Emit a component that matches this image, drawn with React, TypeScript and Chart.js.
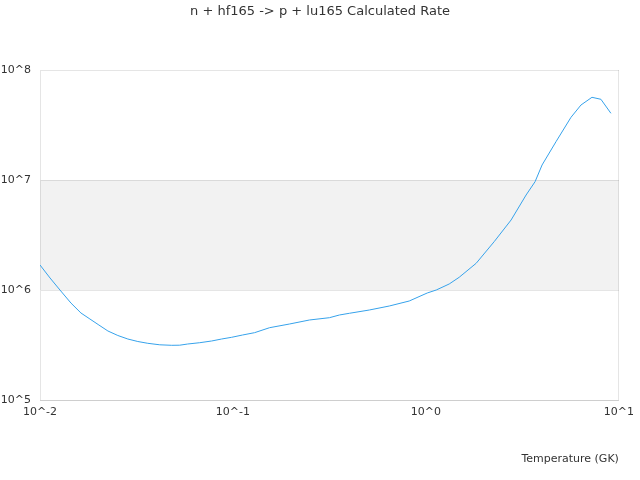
import React, { useEffect, useRef } from "react";
import { Chart, registerables } from "chart.js";

Chart.register(...registerables);

const chartTitle = "n + hf165 -> p + lu165 Calculated Rate";
const xAxisTitle = "Temperature (GK)";

// Temperature (GK)
const temperatures = [
  0.01, 0.01127, 0.01269, 0.01446, 0.0163, 0.01814, 0.02019, 0.02248, 0.02531,
  0.02852, 0.03213, 0.0362, 0.04175, 0.04816, 0.05297, 0.05827, 0.06723,
  0.07755, 0.08737, 0.09843, 0.1122, 0.1294, 0.1548, 0.1964, 0.2492, 0.3162,
  0.3562, 0.4012, 0.509, 0.6458, 0.8193, 1.016, 1.131, 1.32, 1.487, 1.821,
  2.257, 2.763, 3.304, 3.678, 3.998, 4.722, 5.646, 6.361, 7.251, 8.069, 9.091,
];

// Calculated rate
const rates = [
  1.688e6, 1.286e6, 1.0e6, 7.617e5, 6.18e5, 5.448e5, 4.806e5, 4.241e5, 3.859e5,
  3.585e5, 3.402e5, 3.277e5, 3.175e5, 3.142e5, 3.149e5, 3.229e5, 3.318e5,
  3.439e5, 3.585e5, 3.715e5, 3.899e5, 4.092e5, 4.543e5, 4.908e5, 5.337e5,
  5.601e5, 5.926e5, 6.141e5, 6.579e5, 7.153e5, 7.943e5, 9.392e5, 1.0e6,
  1.134e6, 1.305e6, 1.749e6, 2.749e6, 4.329e6, 7.305e6, 9.65e6, 1.369e7,
  2.23e7, 3.715e7, 4.806e7, 5.647e7, 5.416e7, 4.04e7,
];

const xTicks = [0.01, 0.1, 1, 10];
const yTicks = [1e5, 1e6, 1e7, 1e8];
const bandRange = [1e6, 1e7];

const FONT = "'DejaVu Sans', sans-serif";
const GRID = "rgba(0,0,0,0.1)";
const TEXT = "#333";

const bandPlugin = {
  id: "band",
  beforeDraw(chart: any) {
    const { ctx, chartArea, scales } = chart;
    const y = scales.y;
    const top = y.getPixelForValue(bandRange[1]);
    const bottom = y.getPixelForValue(bandRange[0]);
    ctx.save();
    ctx.fillStyle = "rgba(0,0,0,0.05)";
    ctx.fillRect(chartArea.left, top, chartArea.right - chartArea.left, bottom - top);
    ctx.restore();
  },
};

const titlePlugin = {
  id: "centeredTitle",
  afterDraw(chart: any) {
    const { ctx, width } = chart;
    ctx.save();
    ctx.fillStyle = TEXT;
    ctx.font = "13px " + FONT;
    ctx.textAlign = "center";
    ctx.textBaseline = "middle";
    ctx.fillText(chartTitle, width / 2, 12);
    ctx.restore();
  },
};

export default function App() {
  const canvasRef = useRef<HTMLCanvasElement | null>(null);

  useEffect(() => {
    document.body.style.margin = "0";
    const canvas = canvasRef.current;
    if (!canvas) return;
    const label = (v: number) => "10^" + Math.round(Math.log10(v));
    const chart = new Chart(canvas, {
      type: "line",
      data: {
        datasets: [
          {
            data: temperatures.map((t, i) => ({ x: t, y: rates[i] })),
            borderColor: "#36a2eb",
            backgroundColor: "#36a2eb",
            borderWidth: 1,
            pointRadius: 0,
            tension: 0,
            fill: false,
          },
        ],
      },
      options: {
        animation: false,
        responsive: false,
        devicePixelRatio: 1,
        layout: { padding: { top: 70, right: 20, bottom: 10, left: 0 } },
        plugins: {
          legend: { display: false },
          tooltip: { enabled: false },
          title: { display: false },
        },
        scales: {
          x: {
            type: "logarithmic",
            min: 0.01,
            max: 10,
            afterBuildTicks: (scale: any) => {
              scale.ticks = xTicks.map((v) => ({ value: v }));
            },
            afterFit: (scale: any) => {
              scale.height = 70;
            },
            ticks: {
              color: TEXT,
              font: { family: FONT, size: 11 },
              padding: 6,
              maxRotation: 0,
              autoSkip: false,
              callback: (v: any) => label(Number(v)),
            },
            grid: {
              drawTicks: false,
              color: (c: any) => (c.tick && c.tick.value === 10 ? GRID : "rgba(0,0,0,0)"),
            },
            border: { display: true, color: GRID },
            title: {
              display: true,
              text: xAxisTitle,
              align: "end",
              color: TEXT,
              font: { family: FONT, size: 11 },
              padding: { top: 4, bottom: 4 },
            },
          },
          y: {
            type: "logarithmic",
            min: 1e5,
            max: 1e8,
            afterBuildTicks: (scale: any) => {
              scale.ticks = yTicks.map((v) => ({ value: v }));
            },
            afterFit: (scale: any) => {
              scale.width = 40;
            },
            ticks: {
              color: TEXT,
              font: { family: FONT, size: 11 },
              padding: 9,
              autoSkip: false,
              callback: (v: any) => label(Number(v)),
            },
            grid: { drawTicks: false, color: GRID },
            border: { display: true, color: GRID },
          },
        },
      },
      plugins: [bandPlugin, titlePlugin],
    } as any);
    return () => chart.destroy();
  }, []);

  return (
    <div style={{ width: 640, height: 480 }}>
      <canvas ref={canvasRef} width={640} height={480} style={{ display: "block" }} />
    </div>
  );
}
